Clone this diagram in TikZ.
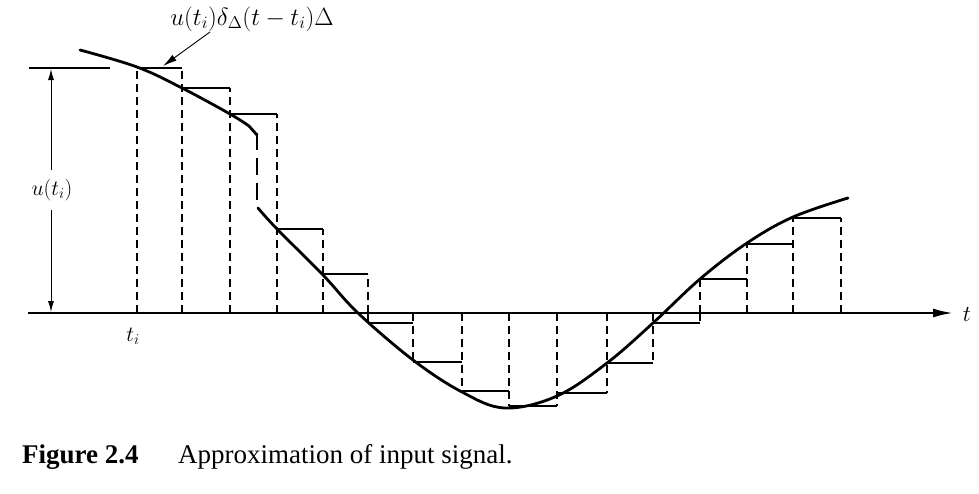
\documentclass[tikz,border=0pt]{standalone}
\usepackage{fontspec}
\setmainfont{Liberation Serif}
\usetikzlibrary{arrows.meta}
\begin{document}
\begin{tikzpicture}[x=1pt,y=-1pt,
  curve/.style={line width=2.8pt, line join=round, line cap=round},
  stair/.style={line width=1.8pt},
  guide/.style={line width=1.4pt, dash pattern=on 8pt off 5pt},
  axisline/.style={line width=2.2pt},
  lbl/.style={inner sep=1pt},
  thinarrow/.style={line width=1pt, -{Latex[length=11pt,width=6pt]}}]
\useasboundingbox (0,0) rectangle (979,493);

% steps with dashed sides
\foreach \xa/\xb/\yy in {137/182/68, 182/230/88, 230/277/114, 277/323/229, 323/368/274,
  368/413/323, 413/462/362, 462/509/391, 509/557/406, 557/607/393, 607/653/363,
  653/700/323, 700/747/279, 747/793/244, 793/841/218}
{
  \draw[guide] (\xa,313) -- (\xa,\yy);
  \draw[guide] (\xb,313) -- (\xb,\yy);
  \draw[stair] (\xa,\yy) -- (\xb,\yy);
}

% reference level line
\coordinate (refL) at (29,68);
\coordinate (refR) at (110,68);
\draw[stair] (refL) -- (refR);

% time axis
\coordinate (axL) at (28,313);
\coordinate (axR) at (953,313);
\draw[axisline, -{Latex[length=20pt,width=9pt]}] (axL) -- (axR);
\node[lbl, scale=1.1] (tlab) at (967,314) {\fontsize{20}{24}\selectfont $t$};

% signal curve
\draw[curve] plot[smooth, tension=0.6] coordinates {(80,50) (137,67) (182,88) (230,114) (249,126)} -- (257,135);
\draw[line width=2.8pt, dash pattern=on 17pt off 8pt] (257,133) -- (257,201);
\draw[curve] plot[smooth, tension=0.6] coordinates {(258,208) (277,229) (323,275) (358,313) (413,360) (462,392) (505,408) (557,396) (607,363) (653,323) (700,279) (747,243) (793,217) (848,198)};

% u(t_i) dimension arrow
\node[lbl, scale=1.05] (ulab) at (52,190) {\fontsize{20}{24}\selectfont $u(t_i)$};
\coordinate (utop) at (51,69);
\coordinate (ubot) at (51,312);
\draw[thinarrow] (ulab.north -| utop) ++(0,-8) -- (utop);
\draw[thinarrow] (ulab.south -| ubot) ++(0,8) -- (ubot);

% t_i label
\node[lbl, scale=1.05] (tilab) at (133,336) {\fontsize{20}{24}\selectfont $t_i$};

% top annotation
\node[lbl, scale=1.2, anchor=base] (toplab) at (252,25) {\fontsize{20}{24}\selectfont $u(t_i)\delta_\Delta(t-t_i)\Delta$};
\coordinate (annot) at (163,66);
\draw[line width=0.9pt, -{Latex[length=14pt,width=7pt]}] (210,32) -- (annot);

% caption
\node[inner sep=0pt, anchor=base west] (figno) at (22,463) {\fontsize{27}{30}\selectfont\bfseries Figure 2.4};
\node[inner sep=0pt, anchor=base west] (captxt) at (178,463) {\fontsize{27}{30}\selectfont Approximation of input signal.};
\end{tikzpicture}
\end{document}
